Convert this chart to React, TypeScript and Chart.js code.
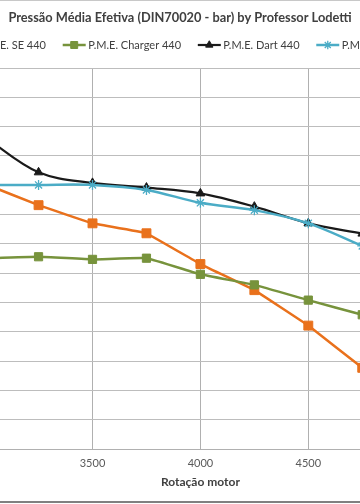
import React, { useEffect, useRef } from "react";
import { Chart, registerables } from "chart.js";
import { drawPoint } from "chart.js/helpers";

Chart.register(...registerables);

const chartTitle = "Pressão Média Efetiva (DIN70020 - bar) by Professor Lodetti";
const xAxisTitle = "Rotação motor";
const rpm = [3000, 3250, 3500, 3750, 4000, 4250, 4500, 4750];
const seriesNames = ["P.M.E. SE 440", "P.M.E. Charger 440", "P.M.E. Dart 440", "P.M.E. GTX 440"];
const pmeSE = [9.05, 8.32, 7.7, 7.36, 6.31, 5.42, 4.21, 2.77];
const pmeCharger = [6.5, 6.56, 6.47, 6.51, 5.96, 5.6, 5.08, 4.58];
const pmeDart = [10.65, 9.44, 9.08, 8.92, 8.72, 8.27, 7.7, 7.35];
const pmeGTX = [9.01, 9.01, 9.01, 8.84, 8.4, 8.15, 7.7, 6.93];
const xMin = 3000;
const xMax = 5000;
const xStep = 500;
const yMin = 0;
const yMax = 13;
const yStep = 1;

const FONT = "Lato, 'Open Sans', sans-serif";
const CANVAS_OFFSET = 120;

const titleLegendPlugin = {
  id: "titleLegend",
  afterDraw(chart: any) {
    const ctx = chart.ctx as CanvasRenderingContext2D;
    ctx.save();
    ctx.textBaseline = "middle";
    ctx.textAlign = "center";
    ctx.fillStyle = "#404040";
    ctx.font = `bold 12.8px ${FONT}`;
    ctx.fillText(chartTitle, chart.width / 2, 18);

    ctx.font = `11px ${FONT}`;
    const lineW = 23;
    const gapText = 2.5;
    const gapItem = 16.7;
    const ds = chart.data.datasets;
    const widths = ds.map((d: any) => ctx.measureText(d.label).width);
    // second legend entry starts at 62.7px of the visible frame
    let x = CANVAS_OFFSET + 62.7 - (lineW + gapText + widths[0] + gapItem);
    const y = 45;
    ds.forEach((d: any, i: number) => {
      ctx.strokeStyle = d.borderColor;
      ctx.lineWidth = d.borderWidth;
      ctx.beginPath();
      ctx.moveTo(x, y);
      ctx.lineTo(x + lineW, y);
      ctx.stroke();
      ctx.fillStyle = d.pointBackgroundColor;
      ctx.strokeStyle = d.pointBorderColor;
      ctx.lineWidth = d.pointBorderWidth;
      drawPoint(ctx, { pointStyle: d.pointStyle, rotation: 0, radius: d.pointRadius * 0.85, borderWidth: d.pointBorderWidth }, x + lineW / 2, y);
      ctx.fillStyle = "#404040";
      ctx.textAlign = "left";
      ctx.fillText(d.label, x + lineW + gapText, y + 0.5);
      x += lineW + gapText + widths[i] + gapItem;
    });
    ctx.restore();
  },
};

function pts(values: number[]) {
  return rpm.map((r, i) => ({ x: r, y: values[i] }));
}

export default function App() {
  const ref = useRef<HTMLCanvasElement>(null);
  useEffect(() => {
    Chart.defaults.font.family = FONT;
    const chart = new Chart(ref.current as HTMLCanvasElement, {
      type: "line",
      data: {
        datasets: [
          {
            label: seriesNames[0],
            data: pts(pmeSE),
            borderColor: "#E9711C",
            backgroundColor: "#E9711C",
            borderWidth: 2.5,
            pointStyle: "rect",
            pointRadius: 6.3,
            pointBackgroundColor: "#E9711C",
            pointBorderColor: "#E9711C",
            pointBorderWidth: 1,
            tension: 0.05,
            order: 4,
          },
          {
            label: seriesNames[1],
            data: pts(pmeCharger),
            borderColor: "#77933C",
            backgroundColor: "#77933C",
            borderWidth: 2.5,
            pointStyle: "rect",
            pointRadius: 5.8,
            pointBackgroundColor: "#77933C",
            pointBorderColor: "#77933C",
            pointBorderWidth: 1,
            tension: 0.1,
            order: 3,
          },
          {
            label: seriesNames[2],
            data: pts(pmeDart),
            borderColor: "#1a1a1a",
            backgroundColor: "#1a1a1a",
            borderWidth: 2.2,
            pointStyle: "triangle",
            pointRadius: 5,
            pointBackgroundColor: "#1a1a1a",
            pointBorderColor: "#1a1a1a",
            pointBorderWidth: 1,
            tension: 0.35,
            order: 2,
          },
          {
            label: seriesNames[3],
            data: pts(pmeGTX),
            borderColor: "#4BACC6",
            backgroundColor: "#4BACC6",
            borderWidth: 2.5,
            pointStyle: "star",
            pointRadius: 5,
            pointBackgroundColor: "#4BACC6",
            pointBorderColor: "#4BACC6",
            pointBorderWidth: 1.3,
            tension: 0.35,
            order: 1,
          },
        ],
      },
      options: {
        responsive: false,
        animation: false,
        layout: { padding: { top: 68, right: 63.8, bottom: 0, left: 0 } },
        plugins: {
          legend: { display: false },
          title: { display: false },
          tooltip: { enabled: false },
        },
        scales: {
          x: {
            type: "linear",
            min: xMin,
            max: xMax,
            ticks: {
              stepSize: xStep,
              color: "#595959",
              font: { size: 11 },
              padding: 8,
              callback: (v: any) => String(v),
            },
            grid: { color: "#b0b0b0", drawTicks: false },
            border: { color: "#b0b0b0" },
            title: {
              display: true,
              text: xAxisTitle,
              color: "#404040",
              font: { size: 12, weight: "bold" },
              padding: { top: 0, bottom: 14.5 },
            },
            afterFit: (s: any) => {
              s.height = 55;
            },
          },
          y: {
            type: "linear",
            min: yMin,
            max: yMax,
            ticks: { stepSize: yStep, color: "#595959", font: { size: 11 } },
            grid: { color: "#bdbdbd", drawTicks: false },
            border: { color: "#b0b0b0" },
            afterFit: (s: any) => {
              s.width = 104.6;
            },
          },
        },
      },
      plugins: [titleLegendPlugin],
    } as any);
    return () => chart.destroy();
  }, []);
  return (
    <div style={{ position: "fixed", left: 0, top: 0, width: 360, height: 504, overflow: "hidden", background: "#fff" }}>
      <div style={{ position: "absolute", left: -CANVAS_OFFSET, top: 0, width: 600, height: 504 }}>
        <canvas ref={ref} width={600} height={504} style={{ display: "block" }} />
      </div>
      <div style={{ position: "absolute", left: 0, top: 0, width: 360, height: 1, background: "#c8c8c8" }} />
      <div style={{ position: "absolute", left: 0, top: 501, width: 360, height: 2, background: "#808080" }} />
    </div>
  );
}
